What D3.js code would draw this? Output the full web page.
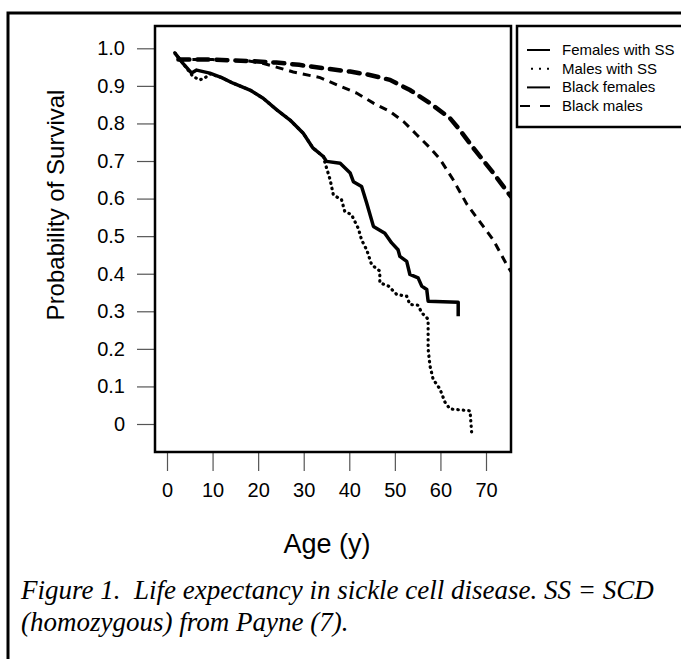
<!DOCTYPE html>
<html>
<head>
<meta charset="utf-8">
<script src="https://cdn.jsdelivr.net/npm/d3@7"></script>
<style>
  body { margin: 0; background: #fff; }
  .axis text { font-family: "Liberation Sans", Arial, sans-serif; font-size: 20px; fill: #000; }
  .axis line { stroke: #555; stroke-width: 1.2; }
  .label { font-family: "Liberation Sans", Arial, sans-serif; }
  .legend text { font-family: "Liberation Sans", Arial, sans-serif; font-size: 15px; }
  .caption { font-family: "Liberation Serif", "Times New Roman", serif; font-style: italic; font-size: 27px; white-space: pre; }
</style>
</head>
<body>
<div id="chart"></div>
<script>
// survival curves: [age, probability]
let femalesSS = [[1.7, 0.988], [3.5, 0.96], [5.4, 0.934], [6.5, 0.942], [9.4, 0.934], [12, 0.922],
  [14.5, 0.907], [18.2, 0.889], [21.1, 0.867], [24.1, 0.836], [27, 0.809], [29.9, 0.774],
  [32, 0.735], [34.3, 0.712], [35, 0.699], [38, 0.694], [40.2, 0.668], [40.9, 0.645],
  [42.7, 0.632], [43.8, 0.589], [45.3, 0.526], [47.8, 0.508], [49.3, 0.482], [50.7, 0.464],
  [51.1, 0.446], [52.6, 0.433], [53.3, 0.398], [55.1, 0.389], [55.9, 0.367], [57, 0.358],
  [57.3, 0.327], [63.9, 0.324], [63.9, 0.287]];
let malesSS = [[1.7, 0.988], [3.5, 0.96], [5.7, 0.925], [7.2, 0.916], [8.3, 0.921], [9.4, 0.932],
  [12, 0.922], [14.5, 0.907], [18.2, 0.889], [21.1, 0.867], [24.1, 0.836], [27, 0.809],
  [29.9, 0.774], [32, 0.735], [34.3, 0.712], [34.7, 0.694], [35.8, 0.65], [36.5, 0.61],
  [38.3, 0.597], [39, 0.566], [40.5, 0.557], [42, 0.52], [42.7, 0.49], [43.8, 0.464],
  [44.9, 0.424], [46.7, 0.407], [46.7, 0.376], [48.6, 0.367], [50.4, 0.345], [52.6, 0.34],
  [53.3, 0.318], [55.1, 0.316], [55.9, 0.296], [57.3, 0.279], [57.3, 0.2], [57.7, 0.155],
  [58.4, 0.119], [59.9, 0.093], [61, 0.058], [62.1, 0.04], [66.5, 0.035], [66.9, -0.031]];
let blackFemales = [[2.5, 0.97], [10, 0.97], [18, 0.966], [24, 0.962], [29, 0.956], [33.6, 0.948],
  [40.2, 0.938], [44.5, 0.929], [48.9, 0.916], [53.3, 0.889], [57.7, 0.854], [62.1, 0.814],
  [64.3, 0.782], [67.2, 0.735], [71.6, 0.668], [75.5, 0.605]];
let blackMales = [[2.5, 0.97], [10, 0.97], [18, 0.966], [21, 0.96], [24, 0.95], [27.7, 0.937],
  [33.6, 0.922], [38, 0.899], [41.6, 0.881], [45.3, 0.854], [48.9, 0.832], [51.9, 0.805],
  [54.8, 0.77], [57.7, 0.735], [59.9, 0.705], [62.8, 0.65], [65.8, 0.585], [69.4, 0.526],
  [71.6, 0.49], [74.5, 0.425], [75.5, 0.405]];

let seriesNames = ['Females with SS', 'Males with SS', 'Black females', 'Black males'];
let xTicks = [0, 10, 20, 30, 40, 50, 60, 70];
let yTicks = [0, 0.1, 0.2, 0.3, 0.4, 0.5, 0.6, 0.7, 0.8, 0.9, 1.0];
let yTickLabels = ['0', '0.1', '0.2', '0.3', '0.4', '0.5', '0.6', '0.7', '0.8', '0.9', '1.0'];

let box = {left: 155, top: 26, right: 511, bottom: 452};

let xScale = d3.scaleLinear()
  .domain([0, 70])
  .range([167, 486]);
let yScale = d3.scaleLinear()
  .domain([0, 1])
  .range([424, 48.3]);

let svg = d3.select('#chart')
  .append('svg')
  .attr('width', 681)
  .attr('height', 659);

// outer frame of the figure
svg.append('rect')
  .attr('x', 8).attr('y', 13)
  .attr('width', 700).attr('height', 700)
  .attr('fill', 'none').attr('stroke', '#000').attr('stroke-width', 3);

svg.append('clipPath').attr('id', 'plotclip')
  .append('rect')
  .attr('x', box.left).attr('y', box.top)
  .attr('width', box.right - box.left).attr('height', box.bottom - box.top);

let xAxis = d3.axisBottom(xScale).tickValues(xTicks).tickSize(19).tickPadding(12);
svg.append('g')
  .attr('class', 'x axis')
  .attr('transform', 'translate(0,' + box.bottom + ')')
  .call(xAxis)
  .call(g => g.select('.domain').remove());

let yAxis = d3.axisLeft(yScale).tickValues(yTicks).tickSize(18).tickPadding(12)
  .tickFormat((d, i) => yTickLabels[i]);
svg.append('g')
  .attr('class', 'y axis')
  .attr('transform', 'translate(' + box.left + ',0)')
  .call(yAxis)
  .call(g => g.select('.domain').remove());

let line = d3.line()
  .x(d => xScale(d[0]))
  .y(d => yScale(d[1]));

let curves = svg.append('g').attr('clip-path', 'url(#plotclip)');

curves.append('path')
  .datum(malesSS)
  .attr('d', line)
  .attr('fill', 'none').attr('stroke', '#000')
  .attr('stroke-width', 3.2).attr('stroke-linecap', 'round')
  .attr('stroke-dasharray', '0.5,5');

curves.append('path')
  .datum(blackMales)
  .attr('d', line)
  .attr('fill', 'none').attr('stroke', '#000')
  .attr('stroke-width', 3)
  .attr('stroke-dasharray', '8,6');

curves.append('path')
  .datum(blackFemales)
  .attr('d', line)
  .attr('fill', 'none').attr('stroke', '#000')
  .attr('stroke-width', 4.5).attr('stroke-linecap', 'round')
  .attr('stroke-dasharray', '11,8');

curves.append('path')
  .datum(femalesSS)
  .attr('d', line)
  .attr('fill', 'none').attr('stroke', '#000')
  .attr('stroke-width', 3.5).attr('stroke-linejoin', 'round');

svg.append('rect')
  .attr('x', box.left).attr('y', box.top)
  .attr('width', box.right - box.left).attr('height', box.bottom - box.top)
  .attr('fill', 'none').attr('stroke', '#000').attr('stroke-width', 2.5);

// legend
let legend = svg.append('g').attr('class', 'legend');
legend.append('rect')
  .attr('x', 517).attr('y', 26)
  .attr('width', 200).attr('height', 101)
  .attr('fill', 'none').attr('stroke', '#000').attr('stroke-width', 2.5);

let legendDash = [null, '2,6', null, '10,10'];
let legendX = [527, 531, 527, 520];
seriesNames.forEach((name, i) => {
  let y = 50 + i * 18.7;
  legend.append('line')
    .attr('x1', legendX[i]).attr('x2', 550)
    .attr('y1', y).attr('y2', y)
    .attr('stroke', '#000').attr('stroke-width', 2)
    .attr('stroke-dasharray', legendDash[i]);
  legend.append('text')
    .attr('x', 562).attr('y', y + 5)
    .text(name);
});

svg.append('text')
  .attr('class', 'label')
  .attr('font-size', 24)
  .attr('text-anchor', 'middle')
  .attr('transform', 'translate(64,205) rotate(-90)')
  .text('Probability of Survival');

svg.append('text')
  .attr('class', 'label')
  .attr('font-size', 27)
  .attr('text-anchor', 'middle')
  .attr('x', 327).attr('y', 553)
  .text('Age (y)');

svg.append('text')
  .attr('class', 'caption')
  .attr('x', 21).attr('y', 599)
  .text('Figure 1.  Life expectancy in sickle cell disease. SS = SCD');
svg.append('text')
  .attr('class', 'caption')
  .attr('x', 21).attr('y', 631)
  .text('(homozygous) from Payne (7).');
</script>
</body>
</html>
